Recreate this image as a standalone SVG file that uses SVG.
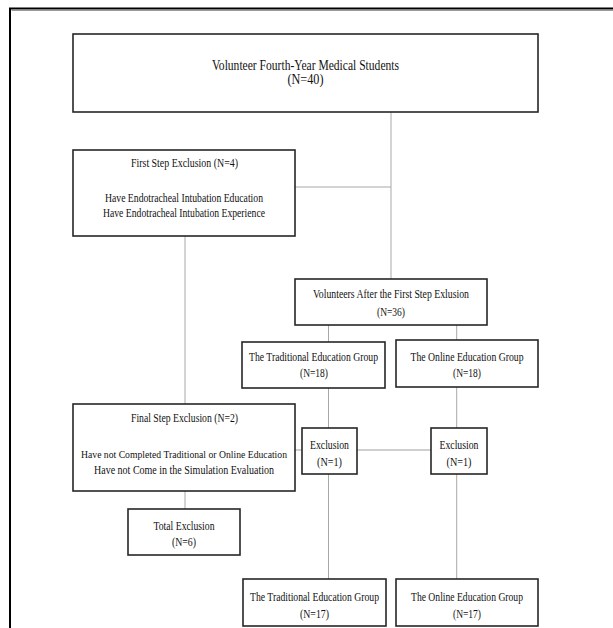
<svg xmlns="http://www.w3.org/2000/svg" width="613" height="628" viewBox="0 0 613 628">
<style>
.box{fill:#fff;stroke:#262626;stroke-width:1.6}
.t{font-family:"Liberation Serif","Times New Roman",serif;font-size:13px;fill:#111;text-anchor:middle}
.tl{font-size:14px}
.ts{font-size:11.5px}
.tx{font-size:10.5px}
.c{stroke:#a8a8a8;stroke-width:1;fill:none}
.c2{stroke:#cfcfcf;stroke-width:2;fill:none}
.frame{stroke:#000;stroke-width:2;fill:none}
</style>
<rect x="0" y="0" width="613" height="628" fill="#fff"/>
<g id="frame">
<path class="frame" d="M10 628 V8.5 H613"/>
<path d="M11.5 10.5 H613" stroke="#9a9a9a" stroke-width="1"/>
</g>
<g id="connectors">
<path class="c" d="M391 112 V279"/>
<path class="c" d="M295 187 H391"/>
<path class="c" d="M185 236 V404"/>
<path class="c" d="M328.5 325 V342"/>
<path class="c" d="M456.7 325 V340"/>
<path class="c" d="M328.5 388 V428"/>
<path class="c" d="M328.5 474 V579"/>
<path class="c" d="M456.7 387 V428"/>
<path class="c" d="M456.7 474 V579"/>
<path class="c2" d="M295 450 H302"/>
<path class="c2" d="M357 450 H431"/>
<path class="c" d="M185 491 V509"/>
</g>
<g id="n-volunteers">
<rect class="box" x="73" y="34" width="465" height="78"/>
<text class="t tl" x="305.5" y="69.5" textLength="187" lengthAdjust="spacingAndGlyphs">Volunteer Fourth-Year Medical Students</text>
<text class="t tl" x="305.5" y="84" textLength="36" lengthAdjust="spacingAndGlyphs">(N=40)</text>
</g>
<g id="n-first-exclusion">
<rect class="box" x="73" y="150" width="222" height="86"/>
<text class="t" x="184.5" y="166.5" textLength="107" lengthAdjust="spacingAndGlyphs">First Step Exclusion (N=4)</text>
<text class="t" x="184" y="201.5" textLength="158" lengthAdjust="spacingAndGlyphs">Have Endotracheal Intubation Education</text>
<text class="t" x="184" y="216.5" textLength="162" lengthAdjust="spacingAndGlyphs">Have Endotracheal Intubation Experience</text>
</g>
<g id="n-after-first">
<rect class="box" x="295" y="279" width="192" height="46"/>
<text class="t" x="391" y="298" textLength="156" lengthAdjust="spacingAndGlyphs">Volunteers After the First Step Exlusion</text>
<text class="t" x="391" y="316" textLength="28" lengthAdjust="spacingAndGlyphs">(N=36)</text>
</g>
<g id="n-trad18">
<rect class="box" x="242" y="342" width="143" height="46"/>
<text class="t" x="313.5" y="361" textLength="129" lengthAdjust="spacingAndGlyphs">The Traditional Education Group</text>
<text class="t" x="314" y="377" textLength="28" lengthAdjust="spacingAndGlyphs">(N=18)</text>
</g>
<g id="n-online18">
<rect class="box" x="396" y="340" width="142" height="47"/>
<text class="t" x="467" y="360.5" textLength="113" lengthAdjust="spacingAndGlyphs">The Online Education Group</text>
<text class="t" x="467" y="377" textLength="28" lengthAdjust="spacingAndGlyphs">(N=18)</text>
</g>
<g id="n-final-exclusion">
<rect class="box" x="73" y="404" width="222" height="87"/>
<text class="t" x="184.5" y="422" textLength="107" lengthAdjust="spacingAndGlyphs">Final Step Exclusion (N=2)</text>
<text class="t tx" x="184" y="458" textLength="206" lengthAdjust="spacingAndGlyphs">Have not Completed Traditional or Online Education</text>
<text class="t ts" x="184" y="474" textLength="180" lengthAdjust="spacingAndGlyphs">Have not Come in the Simulation Evaluation</text>
</g>
<g id="n-excl1">
<rect class="box" x="302" y="428" width="55" height="46"/>
<text class="t" x="329.5" y="449" textLength="39" lengthAdjust="spacingAndGlyphs">Exclusion</text>
<text class="t" x="329.5" y="466" textLength="25" lengthAdjust="spacingAndGlyphs">(N=1)</text>
</g>
<g id="n-excl2">
<rect class="box" x="431" y="428" width="56" height="46"/>
<text class="t" x="459" y="449" textLength="39" lengthAdjust="spacingAndGlyphs">Exclusion</text>
<text class="t" x="459" y="466" textLength="25" lengthAdjust="spacingAndGlyphs">(N=1)</text>
</g>
<g id="n-total">
<rect class="box" x="128" y="509" width="112" height="46"/>
<text class="t" x="184" y="529.5" textLength="61" lengthAdjust="spacingAndGlyphs">Total Exclusion</text>
<text class="t" x="184" y="546" textLength="24" lengthAdjust="spacingAndGlyphs">(N=6)</text>
</g>
<g id="n-trad17">
<rect class="box" x="243" y="579" width="143" height="47"/>
<text class="t" x="314.5" y="601" textLength="129" lengthAdjust="spacingAndGlyphs">The Traditional Education Group</text>
<text class="t" x="314.5" y="618" textLength="29" lengthAdjust="spacingAndGlyphs">(N=17)</text>
</g>
<g id="n-online17">
<rect class="box" x="396" y="579" width="142" height="47"/>
<text class="t" x="467" y="601" textLength="112" lengthAdjust="spacingAndGlyphs">The Online Education Group</text>
<text class="t" x="467" y="618" textLength="28" lengthAdjust="spacingAndGlyphs">(N=17)</text>
</g>
</svg>
